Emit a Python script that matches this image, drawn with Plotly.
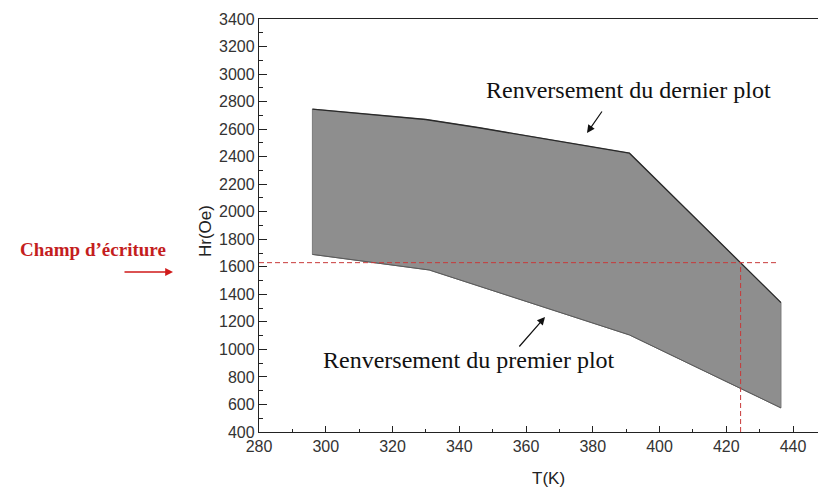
import plotly.graph_objects as go

# Upper boundary (reversal of last pad) and lower boundary (reversal of first pad)
T_upper = [296, 330, 346, 391, 436.4]
Hr_upper = [2745, 2670, 2610, 2425, 1340]
T_lower = [296, 331, 391, 436.4]
Hr_lower = [1690, 1577, 1105, 575]

# Write field level and its crossing temperature
write_field = 1630
T_cross = 424.3
T_field_end = 435

x_ticks = [280, 300, 320, 340, 360, 380, 400, 420, 440]
y_ticks = list(range(400, 3401, 200))

# pixel -> data helpers for annotation placement
L, R, T, B = 259, 818, 19, 432
X0, Y0 = 280, 400
XS = (793 - 259) / 160.0
YS = (432 - 19) / 3000.0
def px2x(px):
    return X0 + (px - L) / XS
def py2y(py):
    return Y0 + (B - py) / YS
def ppx(px):
    return (px - L) / (R - L)
def ppy(py):
    return (B - py) / (B - T)

fig = go.Figure()

poly_x = T_upper + T_lower[::-1] + [T_upper[0]]
poly_y = Hr_upper + Hr_lower[::-1] + [Hr_upper[0]]
fig.add_trace(go.Scatter(x=poly_x, y=poly_y, mode="lines", fill="toself",
                         fillcolor="#8e8e8e", line=dict(color="#7a7a7a", width=1),
                         hoverinfo="skip", showlegend=False))
fig.add_trace(go.Scatter(x=T_upper, y=Hr_upper, mode="lines",
                         line=dict(color="#2a2a2a", width=1.3),
                         hoverinfo="skip", showlegend=False))
fig.add_trace(go.Scatter(x=T_lower, y=Hr_lower, mode="lines",
                         line=dict(color="#5a5a5a", width=1),
                         hoverinfo="skip", showlegend=False))

# red dashed guide lines
fig.add_trace(go.Scatter(x=[280, T_field_end], y=[write_field, write_field], mode="lines",
                         line=dict(color="#c83a3a", width=1, dash="5px,3px"),
                         hoverinfo="skip", showlegend=False))
fig.add_trace(go.Scatter(x=[T_cross, T_cross], y=[400, write_field], mode="lines",
                         line=dict(color="#c83a3a", width=1, dash="5px,3px"),
                         hoverinfo="skip", showlegend=False))

serif = "Liberation Serif"
C = dict(xanchor="center", yanchor="middle")
ann = []
ann.append(dict(x=ppx(628), y=ppy(90), xref="paper", yref="paper",
                text="Renversement du dernier plot", showarrow=False,
                font=dict(family=serif, size=24, color="#111"), **C))
ann.append(dict(x=ppx(469), y=ppy(360), xref="paper", yref="paper",
                text="Renversement du premier plot", showarrow=False,
                font=dict(family=serif, size=24, color="#111"), **C))
# black arrows
ann.append(dict(x=px2x(587), y=py2y(133), ax=px2x(603), ay=py2y(110),
                xref="x", yref="y", axref="x", ayref="y", text="", showarrow=True,
                arrowhead=2, arrowsize=1.3, arrowwidth=1.2, arrowcolor="#111"))
ann.append(dict(x=px2x(545), y=py2y(317), ax=px2x(518), ay=py2y(348),
                xref="x", yref="y", axref="x", ayref="y", text="", showarrow=True,
                arrowhead=2, arrowsize=1.3, arrowwidth=1.2, arrowcolor="#111"))
# red label and arrow
ann.append(dict(x=ppx(93), y=ppy(249), xref="paper", yref="paper",
                text="<b>Champ d\u2019\u00e9criture</b>", showarrow=False,
                font=dict(family=serif, size=19, color="#c41e1e"), **C))
ann.append(dict(x=ppx(173), y=ppy(272), ax=-50, ay=0, xref="paper", yref="paper",
                text="", showarrow=True, arrowhead=2, arrowsize=1.2, arrowwidth=1.3,
                arrowcolor="#d01a1a"))
# axis titles
ann.append(dict(x=ppx(205), y=ppy(231), xref="paper", yref="paper", text="Hr(Oe)",
                showarrow=False, textangle=-90,
                font=dict(family="Liberation Sans", size=17, color="#222"), **C))
ann.append(dict(x=ppx(548), y=ppy(478), xref="paper", yref="paper", text="T(K)",
                showarrow=False,
                font=dict(family="Liberation Sans", size=17, color="#222"), **C))

fig.update_layout(
    width=818, height=495,
    margin=dict(l=L, r=0, t=T, b=495 - B, autoexpand=False),
    paper_bgcolor="white", plot_bgcolor="white",
    annotations=ann,
    showlegend=False,
)
fig.update_xaxes(range=[280, 280 + (R - L) / XS], tickvals=x_ticks, automargin=False,
                 ticks="inside", ticklen=6, tickwidth=1.3, tickcolor="#222",
                 minor=dict(dtick=10, tick0=280, ticks="inside", ticklen=3, tickcolor="#222"),
                 showline=True, linecolor="#222", linewidth=1.3, mirror=True,
                 showgrid=False, zeroline=False,
                 tickfont=dict(family="Liberation Sans", size=16, color="#333"))
fig.update_yaxes(range=[400, 3400], tickvals=y_ticks, automargin=False,
                 ticks="inside", ticklen=8, tickwidth=1.3, tickcolor="#222",
                 minor=dict(dtick=100, tick0=400, ticks="inside", ticklen=4, tickcolor="#222"),
                 showline=True, linecolor="#222", linewidth=1.3, mirror=False,
                 showgrid=False, zeroline=False,
                 tickfont=dict(family="Liberation Sans", size=16, color="#333"))

fig.write_html("out.html", config={"displayModeBar": False},
               post_script="document.body.style.margin='0';document.body.style.padding='0';")
